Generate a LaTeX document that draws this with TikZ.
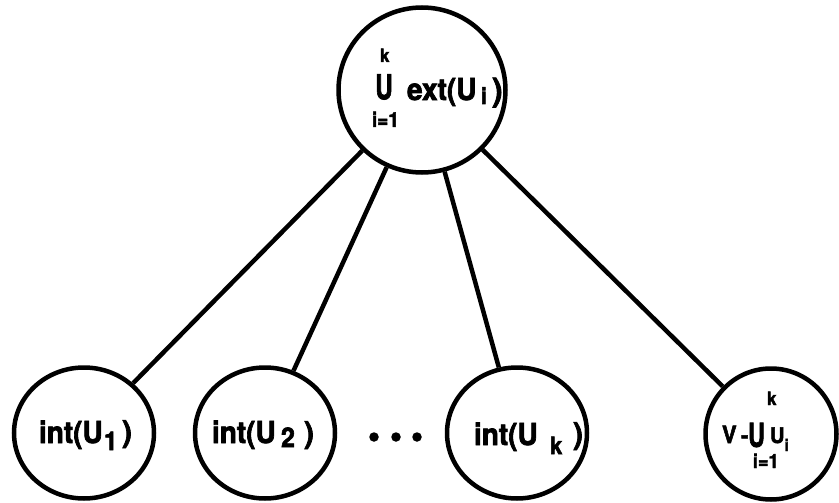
\documentclass[tikz,border=0pt]{standalone}
\usepackage{fontspec}
\setmainfont{TeX Gyre Heros}[BoldFeatures={FakeBold=2.4}]
\usetikzlibrary{shapes.geometric}
\newcommand\fsz[1]{\fontsize{#1}{#1}\selectfont\bfseries}
% slightly taller lettering
\newcommand\tall[1]{\scalebox{1}[1.08]{#1}}
\tikzset{
  ring/.style={ellipse, draw, line width=4.5pt, inner sep=0pt},
  link/.style={line width=4.5pt},
  lbl/.style={inner sep=0pt, outer sep=0pt, anchor=base west},
  dotmark/.style={circle, fill, inner sep=0pt, minimum size=9.5pt}
}
\begin{document}
\begin{tikzpicture}[x=1pt,y=-1pt]
\useasboundingbox (0,0) rectangle (839,503);

% circles
\node[ring, minimum width=167pt, minimum height=165pt] (top) at (422,90) {};
\node[ring, minimum width=140pt, minimum height=131pt] (u1) at (84,433) {};
\node[ring, minimum width=140pt, minimum height=131pt] (u2) at (265,433) {};
\node[ring, minimum width=140pt, minimum height=131pt] (uk) at (517,433) {};
\node[ring, minimum width=131pt, minimum height=131pt] (rest) at (771,434) {};

% connectors
\draw[link] (top) -- (u1);
\draw[link] (top) -- (u2);
\draw[link] (top) -- (uk);
\draw[link] (top) -- (rest);

% root label: union of ext(U_i)
\node[lbl] (tk) at (380,62) {\fsz{17}\tall{k}};
\node[inner sep=0pt] (tU) at (384,87) {\fsz{22}\scalebox{1.1}[1.55]{U}};
\node[lbl] (text) at (407,100) {\fsz{28}\tall{ext(U}};
\node[lbl] (ti) at (481,104) {\fsz{21}\tall{i}};
\node[lbl] (tp) at (492,101) {\fsz{32})};
\node[lbl] (ti1) at (372,127) {\fsz{19}\tall{i=1}};

% int(U_1)
\node[lbl] (a1) at (39,443) {\fsz{28}\tall{int(U}};
\node[lbl] (a2) at (104,450) {\fsz{24}\tall{1}};
\node[lbl] (a3) at (122,442) {\fsz{30})};

% int(U_2)
\node[lbl] (b1) at (212,443) {\fsz{28}\tall{int(U}};
\node[lbl] (b2) at (281,447) {\fsz{25}\tall{2}};
\node[lbl] (b3) at (304,443) {\fsz{30})};

% int(U_k)
\node[lbl] (c1) at (474,445) {\fsz{28}\tall{int(U}};
\node[lbl] (c2) at (550,454) {\fsz{22}\tall{k}};
\node[lbl] (c3) at (573,444) {\fsz{30})};

% dots between int(U_2) and int(U_k)
\node[dotmark] (d1) at (374,437) {};
\node[dotmark] (d2) at (396,437) {};
\node[dotmark] (d3) at (417,437) {};

% V minus union of U_i
\node[lbl] (vk) at (767,405) {\fsz{17}\tall{k}};
\node[lbl] (vV) at (722,443) {\fsz{22}\tall{V}};
\node[lbl] (vm) at (741,443) {\fsz{22}-};
\node[inner sep=0pt] (vU) at (756.5,435) {\fsz{22}\scalebox{1.05}[1.5]{U}};
\node[lbl] (vu) at (770,443) {\fsz{20}\tall{U}};
\node[lbl] (vi) at (784.5,451) {\fsz{15}\tall{i}};
\node[lbl] (vi1) at (753,468) {\fsz{18}\tall{i=1}};
\end{tikzpicture}
\end{document}
